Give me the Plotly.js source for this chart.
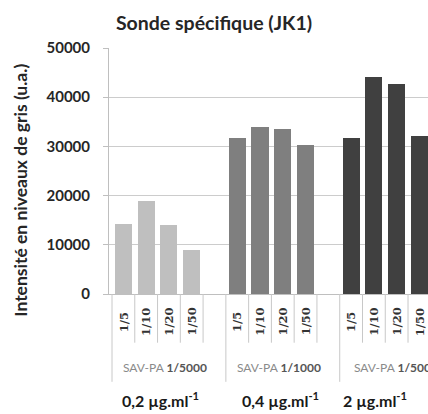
<!DOCTYPE html>
<html>
<head>
<meta charset="utf-8">
<script src="https://cdn.plot.ly/plotly-3.0.1.min.js"></script>
<style>html,body{margin:0;padding:0;background:#fff;}#chart{width:428px;height:414px;}</style>
</head>
<body>
<div id="chart"></div>
<script>
// ---- data ----
const dilutions = ["1/5", "1/10", "1/20", "1/50"];
const groups = ["SAV-PA 1/5000", "SAV-PA 1/1000", "SAV-PA 1/500"];
const concentrations = ["0,2 µg.ml<sup>-1</sup>", "0,4 µg.ml<sup>-1</sup>", "2 µg.ml<sup>-1</sup>"];
const values1 = [14200, 19000, 14100, 9000];   // SAV-PA 1/5000
const values2 = [31700, 33900, 33500, 30300];  // SAV-PA 1/1000
const values3 = [31700, 44200, 42700, 32100];  // SAV-PA 1/500
const yTicks = [0, 10000, 20000, 30000, 40000, 50000];

// ---- build ----
const seriesValues = [values1, values2, values3];
const colors = ["#bfbfbf", "#7f7f7f", "#404040"];
const slotsPerGroup = dilutions.length + 1;
const FONT = "Lato, 'Open Sans', sans-serif";

const traces = seriesValues.map((vals, g) => ({
  type: "bar",
  x: vals.map((_, i) => g * slotsPerGroup + i),
  y: vals,
  width: 0.75,
  marker: { color: colors[g], line: { width: 0 } },
  name: groups[g],
  hoverinfo: "y",
  showlegend: false
}));

const annotations = [];
const shapes = [];
const divColor = "#c8c8c8";

groups.forEach((gname, g) => {
  const base = g * slotsPerGroup;
  dilutions.forEach((d, i) => {
    annotations.push({
      xref: "x", yref: "paper", x: base + i, y: -0.113,
      text: "<b>" + d + "</b>", textangle: -90, showarrow: false,
      xanchor: "center", yanchor: "middle",
      font: { family: "'DejaVu Serif', serif", size: 11.5, color: "#333333" }
    });
    shapes.push({
      type: "line", xref: "x", yref: "paper",
      x0: base + i + 0.5, x1: base + i + 0.5, y0: 0, y1: -0.198,
      line: { color: divColor, width: 1 }
    });
  });
  shapes.push({
    type: "line", xref: "x", yref: "paper",
    x0: base - 0.5, x1: base - 0.5, y0: 0, y1: -0.357,
    line: { color: divColor, width: 1 }
  });
  const parts = gname.split(" ");
  annotations.push({
    xref: "x", yref: "paper", x: base + (dilutions.length) / 2, xshift: -4, y: -0.3005,
    text: parts[0] + " <b><span style='color:#555555'>" + parts[1] + "</span></b>",
    showarrow: false, xanchor: "center", yanchor: "middle",
    font: { family: FONT, size: 12, color: "#8a8a8a" }
  });
});

const concX = [0.16, 0.539, 0.834];
concentrations.forEach((c, g) => {
  annotations.push({
    xref: "paper", yref: "paper", x: concX[g], y: -0.428,
    text: "<b>" + c + "</b>", showarrow: false, xanchor: "center", yanchor: "middle",
    font: { family: FONT, size: 16, color: "#1a1a1a" }
  });
});

annotations.push({
  xref: "paper", yref: "paper", x: -0.276, y: 0.424,
  text: "<b>Intensité en niveaux de gris (u.a.)</b>", textangle: -90, showarrow: false,
  xanchor: "center", yanchor: "middle",
  font: { family: FONT, size: 17.5, color: "#262626" }
});

const layout = {
  width: 428, height: 414,
  margin: { l: 109, r: 0, t: 48, b: 120, pad: 0 },
  paper_bgcolor: "#ffffff", plot_bgcolor: "#ffffff",
  bargap: 0,
  title: {
    text: "<b>Sonde spécifique (JK1)</b>",
    x: 0.5, xref: "container", xanchor: "center",
    y: 1 - 23 / 414, yref: "container", yanchor: "middle",
    font: { family: FONT, size: 19.5, color: "#262626" }
  },
  xaxis: {
    range: [-0.632, 13.377],
    showticklabels: false, ticks: "", showgrid: false, zeroline: false,
    showline: true, linecolor: "#bfbfbf", linewidth: 1, fixedrange: true
  },
  yaxis: {
    range: [0, 50000], tickvals: yTicks, ticktext: yTicks.map(String),
    showgrid: true, gridcolor: "#cccccc", gridwidth: 1,
    zeroline: false, showline: true, linecolor: "#bfbfbf", linewidth: 1,
    ticks: "outside", ticklen: 5, tickcolor: "#bfbfbf",
    ticklabelstandoff: 10,
    tickfont: { family: FONT, size: 15, color: "#262626", weight: "bold" },
    fixedrange: true
  },
  annotations: annotations,
  shapes: shapes
};

Plotly.newPlot("chart", traces, layout, { displayModeBar: false, staticPlot: true });
</script>
</body>
</html>
